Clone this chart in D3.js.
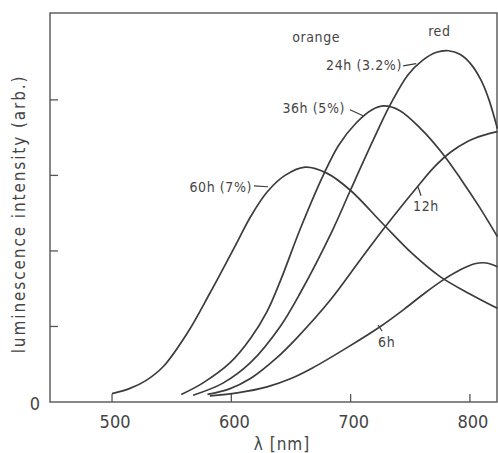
<!DOCTYPE html>
<html>
<head>
<meta charset="utf-8">
<script src="https://cdn.jsdelivr.net/npm/d3@7"></script>
<style>
    body { margin: 0; background: #fff; }
    text { font-family: "DejaVu Sans Condensed", "DejaVu Sans", sans-serif; fill: #454545; }
</style>
</head>
<body>
<div id="chart"></div>
<script>

// wavelength (nm) / intensity (arb., one tick = 1)
let spec6h  = [[582,0.08],[605,0.12],[630,0.2],[650,0.31],[668,0.45],[697,0.72],[725,1.0],[745,1.23],[762,1.44],[778,1.62],[792,1.75],[804,1.83],[814,1.84],[823,1.79]];
let spec12h = [[580,0.1],[598,0.17],[616,0.31],[637,0.57],[655,0.85],[683,1.35],[708,1.88],[729,2.32],[756,2.85],[770,3.11],[784,3.31],[798,3.45],[811,3.53],[823,3.58]];
let spec24h = [[568,0.09],[593,0.25],[616,0.52],[641,1.0],[658,1.45],[685,2.28],[700,2.81],[719,3.47],[733,3.93],[748,4.33],[760,4.52],[772,4.63],[782,4.65],[792,4.6],[801,4.47],[809,4.27],[816,4.0],[823,3.62]];
let spec36h = [[558,0.1],[576,0.25],[599,0.52],[616,0.84],[630,1.2],[641,1.6],[658,2.3],[677,3.0],[690,3.4],[705,3.7],[718,3.87],[728,3.92],[741,3.86],[760,3.6],[777,3.29],[792,2.96],[808,2.58],[823,2.19]];
let spec60h = [[500,0.11],[515,0.18],[528,0.28],[543,0.47],[563,0.91],[582,1.44],[605,2.12],[616,2.45],[630,2.78],[645,3.0],[662,3.11],[680,3.03],[700,2.8],[727,2.36],[752,1.96],[775,1.66],[800,1.43],[823,1.24]];

let xTicks = [500, 600, 700, 800];
let yTicks = [1, 2, 3, 4];

// curve labels: text, anchor point, leader line
let labelText = ["24h (3.2%)", "36h (5%)", "60h (7%)", "12h", "6h"];
let labelAnchor = ["end", "end", "end", "start", "start"];
let labelPos = [[743, 4.4], [695.3, 3.83], [617.4, 2.78], [752.3, 2.53], [723, 0.73]];
let leaders = [
    [[744, 4.45], [755, 4.48]],
    [[699.5, 3.87], [710.4, 3.79]],
    [[619, 2.86], [630.8, 2.85]],
    [[756.5, 2.85], [759, 2.73]],
    [[723, 1.02], [726.3, 0.94]]
];
let bandText = ["orange", "red"];
let bandPos = [[651, 4.77], [765, 4.85]];

class SpectraVis {

    constructor(parentElement){
        this.parentElement = parentElement;
        this.series = [spec6h, spec12h, spec24h, spec36h, spec60h];
        this.initVis();
    }

    initVis(){
        let vis = this;

        vis.margin = {top: 13, right: 1, bottom: 51, left: 50};
        vis.width = 498 - vis.margin.left - vis.margin.right;
        vis.height = 453 - vis.margin.top - vis.margin.bottom;

        vis.svg = d3.select("#" + vis.parentElement).append("svg")
            .attr("width", 498)
            .attr("height", 453)
            .append("g")
            .attr("transform", `translate(${vis.margin.left}, ${vis.margin.top})`);

        vis.x = d3.scaleLinear().domain([448, 822.7]).range([0, vis.width]);
        vis.y = d3.scaleLinear().domain([0, 5.15]).range([vis.height, 0]);

        // frame
        vis.svg.append("rect")
            .attr("width", vis.width)
            .attr("height", vis.height)
            .attr("fill", "none")
            .attr("stroke", "#555")
            .attr("stroke-width", 1.4);

        // inward ticks
        vis.svg.selectAll(".xtick")
            .data(xTicks)
            .join("line")
            .attr("class", "xtick")
            .attr("x1", d => vis.x(d)).attr("x2", d => vis.x(d))
            .attr("y1", vis.height).attr("y2", vis.height - 8)
            .attr("stroke", "#555").attr("stroke-width", 1.3);

        vis.svg.selectAll(".ytick")
            .data(yTicks)
            .join("line")
            .attr("class", "ytick")
            .attr("x1", 0).attr("x2", 8)
            .attr("y1", d => vis.y(d)).attr("y2", d => vis.y(d))
            .attr("stroke", "#555").attr("stroke-width", 1.3);

        vis.svg.selectAll(".xlabel")
            .data(xTicks)
            .join("text")
            .attr("class", "xlabel")
            .attr("x", d => vis.x(d) + 3)
            .attr("y", vis.height + 26)
            .attr("text-anchor", "middle")
            .attr("font-size", "18px")
            .text(d => d);

        vis.svg.append("text")
            .attr("x", -10)
            .attr("y", vis.height + 8)
            .attr("text-anchor", "end")
            .attr("font-size", "18px")
            .text("0");

        // axis titles
        vis.svg.append("text")
            .attr("x", 232)
            .attr("y", vis.height + 48)
            .attr("text-anchor", "middle")
            .attr("font-size", "17px")
            .attr("letter-spacing", "1px")
            .text("λ [nm]");

        vis.svg.append("text")
            .attr("transform", `translate(-25, ${vis.y(2.49)}) rotate(-90)`)
            .attr("text-anchor", "middle")
            .attr("font-size", "17px")
            .attr("letter-spacing", "1.9px")
            .text("luminescence intensity (arb.)");

        vis.line = d3.line()
            .x(d => vis.x(d[0]))
            .y(d => vis.y(d[1]))
            .curve(d3.curveCatmullRom.alpha(0.5));

        this.updateVis();
    }

    updateVis(){
        let vis = this;

        vis.svg.selectAll(".spectrum")
            .data(vis.series)
            .join("path")
            .attr("class", "spectrum")
            .attr("d", d => vis.line(d))
            .attr("fill", "none")
            .attr("stroke", "#3c3c3c")
            .attr("stroke-width", 1.7);

        vis.svg.selectAll(".leader")
            .data(leaders)
            .join("path")
            .attr("class", "leader")
            .attr("d", d => d3.line().x(p => vis.x(p[0])).y(p => vis.y(p[1]))(d))
            .attr("stroke", "#3c3c3c")
            .attr("stroke-width", 1.2);

        vis.svg.selectAll(".curvelabel")
            .data(labelText)
            .join("text")
            .attr("class", "curvelabel")
            .attr("x", (d, i) => vis.x(labelPos[i][0]))
            .attr("y", (d, i) => vis.y(labelPos[i][1]))
            .attr("text-anchor", (d, i) => labelAnchor[i])
            .attr("font-size", "14px")
            .attr("letter-spacing", "0.6px")
            .text(d => d);

        vis.svg.selectAll(".bandlabel")
            .data(bandText)
            .join("text")
            .attr("class", "bandlabel")
            .attr("x", (d, i) => vis.x(bandPos[i][0]))
            .attr("y", (d, i) => vis.y(bandPos[i][1]))
            .attr("font-size", "14px")
            .attr("letter-spacing", "0.6px")
            .text(d => d);
    }
}

new SpectraVis("chart");

</script>
</body>
</html>
